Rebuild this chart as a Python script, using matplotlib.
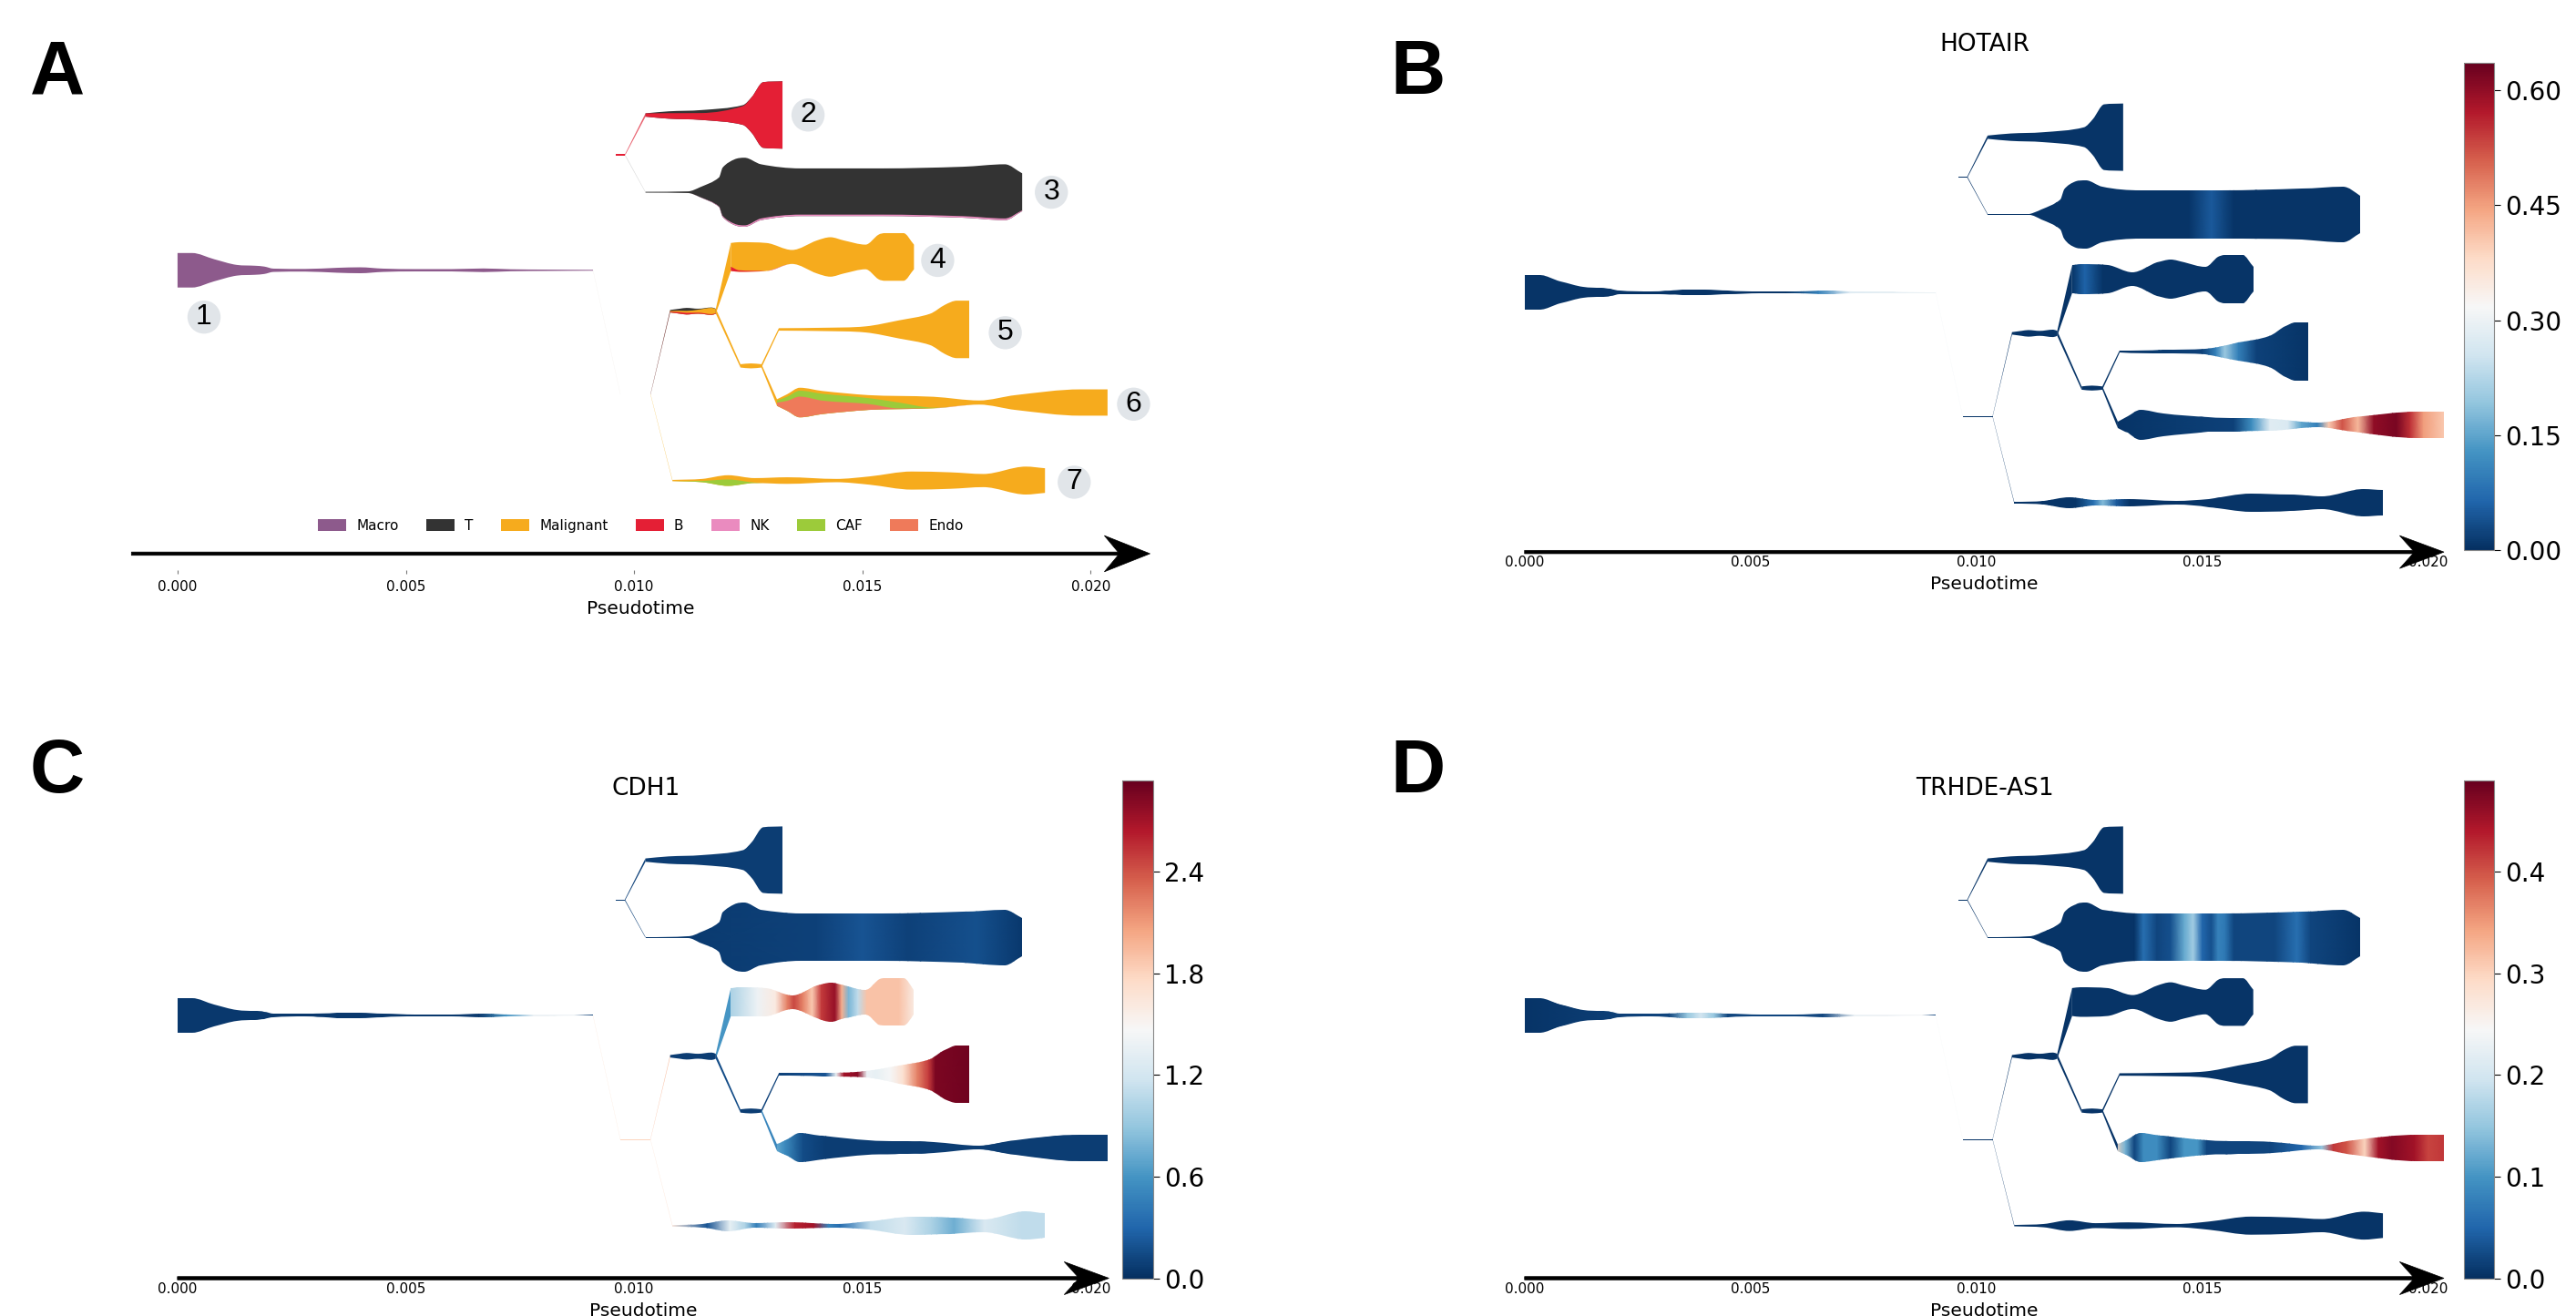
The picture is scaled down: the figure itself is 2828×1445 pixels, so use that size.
import numpy as np
import matplotlib
matplotlib.use('Agg')
import matplotlib.pyplot as plt
from matplotlib.path import Path
from matplotlib.patches import PathPatch, Patch, Polygon
from matplotlib.colors import Normalize
from matplotlib.cm import ScalarMappable

plt.rcParams['font.family'] = ['DejaVu Sans']

# ---------------------------------------------------------------- data
CELL_TYPES = ['Macro', 'T', 'Malignant', 'B', 'NK', 'CAF', 'Endo']
CELL_COLORS = ['#8d5a8c', '#333333', '#f6ab1d', '#e41f35', '#ea8bbf', '#9ccb3a', '#ef7a5a']
BRANCH_LABELS = ['1', '2', '3', '4', '5', '6', '7']
X_TICKS = [0.000, 0.005, 0.010, 0.015, 0.020]
X_TICK_LABELS = ['0.000', '0.005', '0.010', '0.015', '0.020']
GENES = ['HOTAIR', 'CDH1', 'TRHDE-AS1']
GENE_VMAX = [0.636, 2.94, 0.49]
CBAR_TICKS = [[0.0, 0.15, 0.30, 0.45, 0.60], [0.0, 0.6, 1.2, 1.8, 2.4], [0.0, 0.1, 0.2, 0.3, 0.4]]
CBAR_LABELS = [['0.00', '0.15', '0.30', '0.45', '0.60'],
               ['0.0', '0.6', '1.2', '1.8', '2.4'],
               ['0.0', '0.1', '0.2', '0.3', '0.4']]

# stream segments: pseudotime samples and stream width
S1_T = [0.0, 0.00032, 0.0008, 0.0013, 0.0017, 0.0019, 0.0021, 0.0028, 0.0035, 0.0040,
        0.0045, 0.0052, 0.0060, 0.0067, 0.0073, 0.0081, 0.0091]
S1_W = [21, 21, 13.5, 6.5, 5.5, 4.5, 2.0, 1.6, 3.0, 3.6, 2.0, 1.4, 1.4, 2.2, 1.2, 0.8, 0.5]
N23_T = [0.0096, 0.0098]
N23_W = [0.8, 0.8]
S2_T = [0.01025, 0.01076, 0.01147, 0.01238, 0.01258, 0.01283, 0.01325]
S2_W = [2, 4.5, 6, 12, 22, 40, 41]
S3_T = [0.01025, 0.01118, 0.01144, 0.01186, 0.01194, 0.0122, 0.01242, 0.01278, 0.01364,
        0.01543, 0.0172, 0.01812, 0.0185]
S3_W = [0.5, 1, 6, 18, 30, 40, 42, 34, 29, 29, 31, 34, 23]
N1_T = [0.0097, 0.01036]
N1_W = [0.5, 0.5]
N2_T = [0.01079, 0.0110, 0.01115, 0.0114, 0.0117, 0.01179]
N2_W = [1.5, 3, 4, 3, 4.5, 3]
S4_T = [0.01212, 0.0123, 0.0129, 0.01346, 0.0140, 0.0143, 0.0146, 0.01507, 0.01535, 0.0155,
        0.0159, 0.01613]
S4_W = [17, 18, 17, 8.5, 20, 24, 20, 15, 27, 29, 29, 15]
N3_T = [0.01233, 0.01256, 0.01279]
N3_W = [2, 3, 2]
S5_T = [0.01317, 0.01413, 0.01507, 0.0158, 0.01648, 0.01681, 0.01707, 0.01734]
S5_W = [1.5, 2, 3.7, 11, 19, 30, 35, 35]
S6_T = [0.01313, 0.01335, 0.01363, 0.01413, 0.01513, 0.0158, 0.01656, 0.01756, 0.01835,
        0.01977, 0.02037]
S6_W = [4, 10, 18, 14, 9, 8, 7, 2.5, 9, 16, 16]
S7_T = [0.01084, 0.01149, 0.01206, 0.01264, 0.01336, 0.01443, 0.01515, 0.01608, 0.01694,
        0.01765, 0.01858, 0.019]
S7_W = [0.8, 2, 6.5, 3, 4, 2, 5, 11, 10, 8, 17, 15]

# cell type composition along each segment (top to bottom)
S1_MIX = {'Macro': 1.0}
N23_MIX = {'B': 1.0}
S2_MIX = {'T': [0, 0.25, 0.3, 0.05, 0, 0, 0], 'B': 1.0}
S3_MIX = {'T': [1, 1, 0.98, 0.98, 0.98, 0.98, 0.98, 0.97, 0.97, 0.97, 0.97, 0.97, 0.98], 'NK': 1.0}
N1_MIX = {'Malignant': 1.0}
N2_MIX = {'T': [0.4, 0.4, 0.45, 0.2, 0.05, 0.05], 'Malignant': [0.3, 0.3, 0.3, 0.6, 0.85, 0.85],
          'B': 1.0}
S4_MIX = {'Malignant': [0.85, 0.95, 1, 1, 1, 1, 1, 1, 1, 1, 1, 1], 'B': 1.0}
N3_MIX = {'Malignant': 1.0}
S5_MIX = {'Malignant': 1.0}
S6_MIX = {'Malignant': [0.2, 0.15, 0.1, 0.12, 0.2, 0.5, 0.95, 1, 1, 1, 1],
          'CAF': [0.3, 0.25, 0.2, 0.3, 0.4, 0.45, 0.05, 0, 0, 0, 0], 'Endo': 1.0}
S7_MIX = {'Malignant': [1, 0.6, 0.4, 0.9, 1, 1, 1, 1, 1, 1, 1, 1], 'CAF': 1.0}

# links between segments
LINKS = [('S1', 'N1'), ('N23', 'S2'), ('N23', 'S3'), ('N1', 'N2'), ('N1', 'S7'),
         ('N2', 'S4'), ('N2', 'N3'), ('N3', 'S5'), ('N3', 'S6')]
LINK_COLORS_A = ['#efe7e2', '#e8606e', '#d8d8d8', '#6a2a26', '#f6c24e',
                 '#f6ab1d', '#f6ab1d', '#f6ab1d', '#f6ab1d']

# gene expression along segments (pseudotime, value)
HOTAIR_BASE = 0.005
HOTAIR_S1 = ([0.0, 0.0058, 0.0065, 0.0072, 0.0091], [0.005, 0.005, 0.1, 0.28, 0.30])
HOTAIR_S3 = ([0.01025, 0.0147, 0.0152, 0.0157, 0.0185], [0.005, 0.005, 0.05, 0.005, 0.005])
HOTAIR_S4 = ([0.01212, 0.0124, 0.0128, 0.01613], [0.005, 0.06, 0.005, 0.005])
HOTAIR_S5 = ([0.01317, 0.0150, 0.0153, 0.0155, 0.0158, 0.0162, 0.01734],
             [0.005, 0.02, 0.10, 0.20, 0.10, 0.02, 0.005])
HOTAIR_S6 = ([0.01313, 0.0157, 0.0161, 0.0165, 0.0169, 0.0172, 0.01755, 0.0178, 0.0181,
              0.01845, 0.0188, 0.0193, 0.0196, 0.0199, 0.02037],
             [0.005, 0.02, 0.12, 0.28, 0.27, 0.15, 0.10, 0.40, 0.52, 0.42, 0.60, 0.62, 0.55,
              0.45, 0.40])
HOTAIR_S7 = ([0.01084, 0.0122, 0.0126, 0.0128, 0.0131, 0.0134, 0.019],
             [0.005, 0.005, 0.08, 0.18, 0.05, 0.005, 0.005])
HOTAIR_LINKS = [0.30, 0.005, 0.005, 0.005, 0.005, 0.005, 0.005, 0.005, 0.005]

CDH1_BASE = 0.08
CDH1_N1 = 1.8
CDH1_S1 = ([0.0, 0.0066, 0.0072, 0.0078, 0.0087, 0.0091], [0.05, 0.05, 0.6, 1.4, 1.4, 0.1])
CDH1_S3 = ([0.01025, 0.0140, 0.0150, 0.0160, 0.0175, 0.0185], [0.05, 0.1, 0.2, 0.1, 0.18, 0.05])
CDH1_S4 = ([0.01212, 0.0127, 0.0131, 0.01335, 0.0135, 0.0137, 0.0139, 0.0141, 0.0144, 0.01455,
            0.0147, 0.0149, 0.0151, 0.0158, 0.01613],
           [1.0, 1.4, 1.6, 2.2, 2.45, 2.2, 1.85, 2.5, 2.75, 2.0, 0.8, 1.1, 1.9, 1.9, 1.6])
CDH1_S5 = ([0.01317, 0.0142, 0.01443, 0.0146, 0.0149, 0.0151, 0.0153, 0.0156, 0.0159, 0.0162,
            0.01645, 0.0166, 0.01734],
           [0.1, 0.2, 1.4, 2.7, 2.8, 1.4, 1.35, 1.45, 1.7, 2.2, 2.5, 2.85, 2.9])
CDH1_S6 = ([0.01313, 0.0133, 0.0137, 0.0142, 0.02037], [0.7, 0.55, 0.15, 0.08, 0.08])
CDH1_S7 = ([0.01084, 0.0116, 0.0121, 0.01244, 0.01268, 0.0131, 0.01352, 0.01393, 0.01426,
            0.01451, 0.01518, 0.01593, 0.01651, 0.01701, 0.01767, 0.0185, 0.019],
           [1.6, 0.2, 1.35, 1.0, 0.45, 1.3, 2.6, 2.7, 0.5, 0.35, 1.1, 1.25, 1.0, 0.75, 1.25,
            1.1, 1.1])
CDH1_LINKS = [1.75, 0.1, 0.1, 1.9, 1.7, 0.6, 0.15, 0.1, 0.5]

TRHDE_BASE = 0.005
TRHDE_S1 = ([0.0, 0.0032, 0.0036, 0.0039, 0.0042, 0.0045, 0.0066, 0.0073, 0.0088, 0.0091],
            [0.005, 0.02, 0.15, 0.2, 0.15, 0.02, 0.02, 0.23, 0.24, 0.02])
TRHDE_S3 = ([0.01025, 0.0135, 0.0137, 0.0140, 0.0143, 0.0146, 0.0148, 0.0150, 0.0152, 0.01535,
             0.0155, 0.0157, 0.0166, 0.0171, 0.0174, 0.0185],
            [0.005, 0.005, 0.06, 0.02, 0.03, 0.12, 0.16, 0.05, 0.03, 0.08, 0.07, 0.02, 0.02, 0.06,
             0.02, 0.005])
TRHDE_S6 = ([0.01306, 0.0133, 0.0135, 0.0137, 0.0140, 0.0143, 0.0146, 0.0149, 0.0151, 0.0165,
             0.0172, 0.01765, 0.0179, 0.0182, 0.0186, 0.0189, 0.0192, 0.0197, 0.0200, 0.02037],
            [0.3, 0.13, 0.02, 0.09, 0.09, 0.02, 0.1, 0.1, 0.02, 0.02, 0.05, 0.15, 0.42, 0.4,
             0.3, 0.45, 0.47, 0.45, 0.41, 0.42])
TRHDE_LINKS = [0.24, 0.005, 0.005, 0.005, 0.005, 0.005, 0.005, 0.005, 0.005]

# ---------------------------------------------------------------- layout
SEGMENTS = ['S1', 'N23', 'S2', 'S3', 'N1', 'N2', 'S4', 'N3', 'S5', 'S6', 'S7']
SEG_T = {'S1': S1_T, 'N23': N23_T, 'S2': S2_T, 'S3': S3_T, 'N1': N1_T, 'N2': N2_T,
         'S4': S4_T, 'N3': N3_T, 'S5': S5_T, 'S6': S6_T, 'S7': S7_T}
SEG_W = {'S1': S1_W, 'N23': N23_W, 'S2': S2_W, 'S3': S3_W, 'N1': N1_W, 'N2': N2_W,
         'S4': S4_W, 'N3': N3_W, 'S5': S5_W, 'S6': S6_W, 'S7': S7_W}
SEG_MIX = {'S1': S1_MIX, 'N23': N23_MIX, 'S2': S2_MIX, 'S3': S3_MIX, 'N1': N1_MIX,
           'N2': N2_MIX, 'S4': S4_MIX, 'N3': N3_MIX, 'S5': S5_MIX, 'S6': S6_MIX, 'S7': S7_MIX}
# vertical position of each segment (pixels below the root)
SEG_Y = {'S1': 0, 'N23': -70.2, 'S2': -94.5, 'S3': -47.5, 'N1': 75.5, 'N2': 24.9,
         'S4': -8.1, 'N3': 58.2, 'S5': 36, 'S6': 80.5, 'S7': 128}
LABEL_POS = [(0.00058, 28.5), (0.01381, -94.5), (0.01914, -47.5), (0.01665, -6),
             (0.01813, 38), (0.02094, 81.5), (0.01964, 129)]

GENE_SEGS = [
    {'base': HOTAIR_BASE, 'S1': HOTAIR_S1, 'S3': HOTAIR_S3, 'S4': HOTAIR_S4, 'S5': HOTAIR_S5,
     'S6': HOTAIR_S6, 'S7': HOTAIR_S7, 'links': HOTAIR_LINKS},
    {'base': CDH1_BASE, 'N1': CDH1_N1, 'S1': CDH1_S1, 'S3': CDH1_S3, 'S4': CDH1_S4,
     'S5': CDH1_S5, 'S6': CDH1_S6, 'S7': CDH1_S7, 'links': CDH1_LINKS},
    {'base': TRHDE_BASE, 'S1': TRHDE_S1, 'S3': TRHDE_S3, 'S6': TRHDE_S6, 'links': TRHDE_LINKS},
]

W_REF, H_REF = 1568.0, 801.0   # layout is measured on a 1568x801 grid
CMAP = plt.get_cmap('RdBu_r')


def rect(left, top, right, bottom):
    return [left / W_REF, 1 - bottom / H_REF, (right - left) / W_REF, (bottom - top) / H_REF]


def smooth_curve(xs, ys):
    """Cubic Bezier pieces through the samples (no overshoot at extrema)."""
    xs = np.asarray(xs, float)
    ys = np.asarray(ys, float)
    n = len(xs)
    if n < 3:
        return [np.array([x, y]) for x, y in zip(xs, ys)], [Path.LINETO] * n
    sec = np.diff(ys) / np.diff(xs)
    slope = np.zeros(n)
    slope[0], slope[-1] = sec[0], sec[-1]
    for i in range(1, n - 1):
        if sec[i - 1] * sec[i] > 0:
            slope[i] = (ys[i + 1] - ys[i - 1]) / (xs[i + 1] - xs[i - 1])
            lim = 3 * min(abs(sec[i - 1]), abs(sec[i]))
            slope[i] = np.sign(slope[i]) * min(abs(slope[i]), lim)
    verts = [np.array([xs[0], ys[0]])]
    codes = [Path.LINETO]
    for i in range(n - 1):
        dx = xs[i + 1] - xs[i]
        verts += [np.array([xs[i] + dx / 3, ys[i] + slope[i] * dx / 3]),
                  np.array([xs[i + 1] - dx / 3, ys[i + 1] - slope[i + 1] * dx / 3]),
                  np.array([xs[i + 1], ys[i + 1]])]
        codes += [Path.CURVE4] * 3
    return verts, codes


def band_path(t, upper, lower):
    vu, cu = smooth_curve(t, upper)
    vl, cl = smooth_curve(t[::-1], lower[::-1])
    cu[0] = Path.MOVETO
    verts = vu + vl + [vu[0]]
    codes = cu + cl + [Path.CLOSEPOLY]
    return Path(np.array(verts), codes)


def seg_edges(seg):
    t = np.asarray(SEG_T[seg], float)
    w = np.asarray(SEG_W[seg], float)
    y = SEG_Y[seg]
    return t, w, y - w / 2, y + w / 2


def link_polygon(parent, child):
    tp, wp, _, _ = seg_edges(parent)
    tc, wc, _, _ = seg_edges(child)
    yp, yc = SEG_Y[parent], SEG_Y[child]
    return [(tp[-1], yp - wp[-1] / 2), (tc[0], yc - wc[0] / 2),
            (tc[0], yc + wc[0] / 2), (tp[-1], yp + wp[-1] / 2)]


def style_axis(ax, xlim, ylim, arrow_y, head_len, head_w, tick_len, tick_pad, label_pad):
    ax.set_xlim(*xlim)
    ax.set_ylim(*ylim)
    for sp in ax.spines.values():
        sp.set_visible(False)
    ax.set_yticks([])
    ax.set_xticks(X_TICKS)
    ax.set_xticklabels(X_TICK_LABELS, fontsize=11)
    ax.tick_params(axis='x', length=tick_len, width=0.8, color='#777777', pad=tick_pad)
    ax.set_xlabel('Pseudotime', fontsize=14.5, labelpad=label_pad)
    ax.arrow(xlim[0], arrow_y, xlim[1] - xlim[0], 0, width=2.0, head_width=head_w,
             head_length=head_len, length_includes_head=True, overhang=0.3,
             fc='k', ec='k', lw=0.5, clip_on=False, zorder=5)


fig = plt.figure(figsize=(28.28, 14.45), dpi=100)

# ---------------------------------------------------------------- panel A
axA = fig.add_axes(rect(80, 35, 700, 347))
color_of = dict(zip(CELL_TYPES, CELL_COLORS))
for (parent, child), col in zip(LINKS, LINK_COLORS_A):
    axA.add_patch(Polygon(link_polygon(parent, child), closed=True, fc=col, ec='none', lw=0))
for seg in SEGMENTS:
    t, w, top, bottom = seg_edges(seg)
    cum = np.zeros_like(t)
    for ctype, frac in SEG_MIX[seg].items():
        b_top = top + w * cum
        axA.add_patch(PathPatch(band_path(t, b_top, bottom), fc=color_of[ctype],
                                ec='none', lw=0))
        cum = cum + np.broadcast_to(np.asarray(frac, float), t.shape)
for lab, (lt, ly) in zip(BRANCH_LABELS, LABEL_POS):
    axA.text(lt, ly, lab, ha='center', va='center', fontsize=23, family='Liberation Sans',
             bbox=dict(boxstyle='circle,pad=0.1', fc='#e1e5e9', ec='none'))
handles = [Patch(facecolor=c, edgecolor='none', label=n) for n, c in zip(CELL_TYPES, CELL_COLORS)]
axA.legend(handles=handles, loc='center', bbox_to_anchor=(0.5, 0.0865), ncol=7,
           frameon=False, fontsize=11, handlelength=2.0, handleheight=0.85,
           handletextpad=0.75, columnspacing=2.0)
style_axis(axA, (-0.00101, 0.0213), (182.5, -129.5), 172.5, 0.001, 22, 3, 5, 5)

# ---------------------------------------------------------------- panels B, C, D
gene_axes = [((928, 40, 1487.6, 336), 178, (1500, 38, 1518, 335), 0.02035),
             ((108, 478, 675, 778), 618, (683, 475, 702, 778), 0.0204),
             ((928, 478, 1487.6, 778), 618, (1500, 475, 1518, 778), 0.02035)]
title_pos = [(1208, 27), (393, 480), (1208, 480)]

for gi, gene in enumerate(GENES):
    (l, tp, r, b), root, cb, tmax = gene_axes[gi]
    ax = fig.add_axes(rect(l, tp, r, b))
    norm = Normalize(0, GENE_VMAX[gi])
    spec = GENE_SEGS[gi]
    for (parent, child), val in zip(LINKS, spec['links']):
        ax.add_patch(Polygon(link_polygon(parent, child), closed=True, fc=CMAP(norm(val)),
                             ec='none', lw=0))
    for seg in SEGMENTS:
        t, w, top, bottom = seg_edges(seg)
        path = band_path(t, top, bottom)
        expr = spec.get(seg, spec['base'])
        if np.isscalar(expr):
            ax.add_patch(PathPatch(path, fc=CMAP(norm(expr)), ec='none', lw=0))
            continue
        te, ve = np.asarray(expr[0], float), np.asarray(expr[1], float)
        clip = PathPatch(path, fc='none', ec='none', lw=0)
        ax.add_patch(clip)
        X = np.vstack([te, te])
        Y = np.vstack([np.full_like(te, top.min() - 2), np.full_like(te, bottom.max() + 2)])
        mesh = ax.pcolormesh(X, Y, np.vstack([ve, ve]), shading='gouraud', cmap=CMAP, norm=norm)
        mesh.set_clip_path(clip)
    style_axis(ax, (0.0, tmax), (b - root, tp - root), b - root, 0.00098, 20, 0, 3, 5)

    cax = fig.add_axes(rect(*cb))
    cbar = fig.colorbar(ScalarMappable(norm=norm, cmap=CMAP), cax=cax, ticks=CBAR_TICKS[gi])
    cbar.ax.set_yticklabels(CBAR_LABELS[gi])
    cbar.ax.tick_params(labelsize=20, length=5, width=0.8)
    cbar.outline.set_linewidth(0.8)
    cbar.outline.set_edgecolor('#888888')

    fig.text(title_pos[gi][0] / W_REF, 1 - title_pos[gi][1] / H_REF, gene,
             ha='center', va='center', fontsize=19)

# panel letters
for letter, (lx, ly) in zip('ABCD', [(35, 45), (863, 45), (35, 470), (863, 470)]):
    fig.text(lx / W_REF, 1 - ly / H_REF, letter, ha='center', va='center',
             fontsize=60, fontweight='bold', family='Liberation Sans')

fig.savefig('out.png', dpi=100)
